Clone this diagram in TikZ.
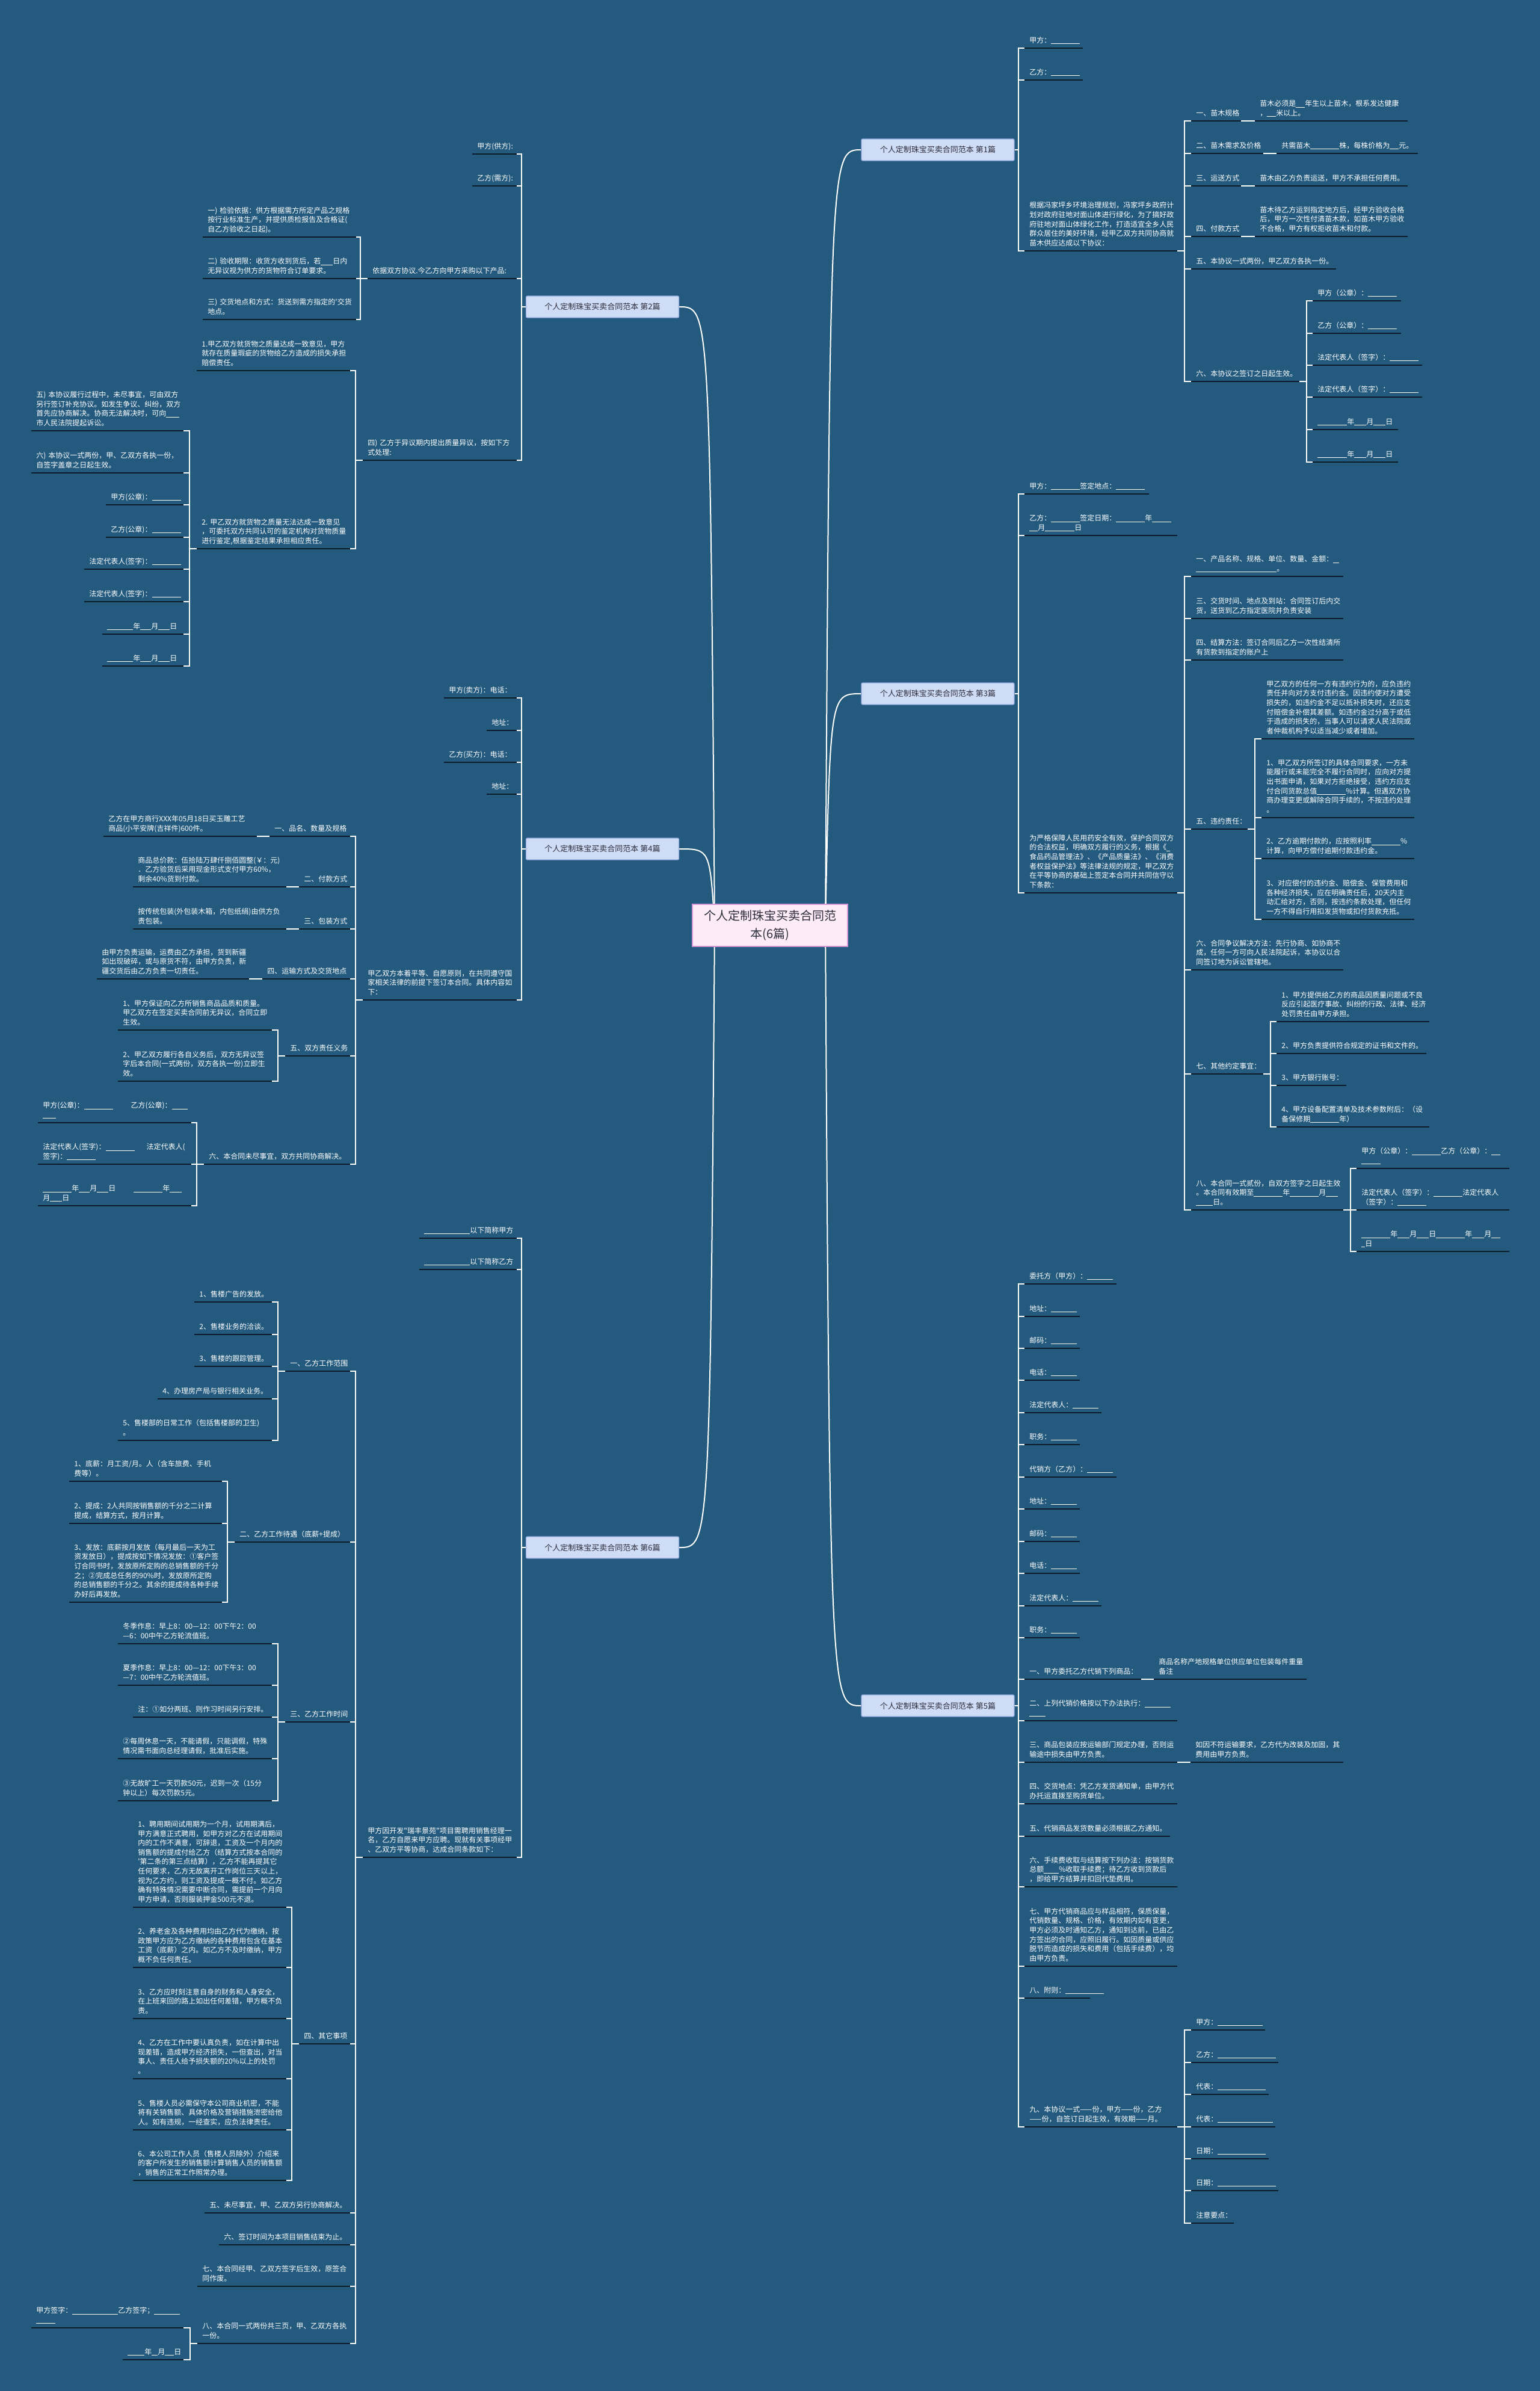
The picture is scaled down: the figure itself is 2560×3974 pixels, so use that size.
\documentclass[tikz,border=0pt]{standalone}
\usepackage{fontspec}
\newfontfamily\cjk{Noto Sans CJK SC}
\definecolor{bgc}{RGB}{35,90,126}
\definecolor{ulc}{RGB}{12,28,44}
\definecolor{brf}{RGB}{207,220,246}
\definecolor{brd}{RGB}{150,172,228}
\definecolor{brt}{RGB}{45,45,60}
\definecolor{rtf}{RGB}{253,236,247}
\definecolor{rtd}{RGB}{214,150,214}
\newdimen\mmu \mmu=0.5pt
\newcommand\mmb[1]{\rule[-1pt]{#1\mmu}{0.45pt}}
\pgfdeclarelayer{back}\pgfdeclarelayer{mid}
\pgfsetlayers{back,mid,main}
\tikzset{
 leaf/.style={anchor=south west, inner xsep=4pt, inner ysep=3pt,
   font=\cjk\fontsize{6}{7.8}\selectfont, text=white, align=left},
 ul/.style={draw=ulc, line width=1.1pt},
 wire/.style={draw=white, line width=1.1pt},
 curve/.style={draw=white, line width=1pt},
 branch/.style={draw=brd, fill=brf, line width=0.6pt, rounded corners=1pt, text=brt,
   font=\cjk\fontsize{6.5}{8}\selectfont, minimum width=127pt, minimum height=18pt, inner sep=0pt},
 root/.style={draw=rtd, fill=rtf, line width=0.8pt, text=brt, align=center,
   font=\cjk\fontsize{10}{15}\selectfont, minimum width=129pt, minimum height=35pt, inner sep=0pt}
}
\newcommand\mmleaf[5]{%
  \pgfmathsetmacro\mmw{(#3-#2)*0.5-8}%
  \node[leaf, text width=\mmw pt] (#1) at (#2,#4) {#5\rule[-1.2pt]{0pt}{1pt}};%
  \draw[ul] (#1.south west) -- (#1.south east);%
}
\newcommand\mmL[2]{\draw[wire] (#1.south west) -- ++(-12,0) |- (#2.south east);}
\newcommand\mmR[2]{\draw[wire] (#1.south east) -- ++(12,0) |- (#2.south west);}
\newcommand\mmTL[2]{\draw[wire] (#1.south west) -- (#2.south east);}
\newcommand\mmTR[2]{\draw[wire] (#1.south east) -- (#2.south west);}
\newcommand\mmBL[2]{\draw[wire] (#1.west) -- ++(-7,0) |- (#2.south east);}
\newcommand\mmBR[2]{\draw[wire] (#1.east) -- ++(6,0) |- (#2.south west);}
\begin{document}
\begin{tikzpicture}[x=0.5pt,y=-0.5pt]
\useasboundingbox (0,0) rectangle (2560,3974);
\begin{pgfonlayer}{back}
\fill[bgc] (0,0) rectangle (2560,3974);
\end{pgfonlayer}

% root and branches
\node[root] (root) at (1280,1538) {个人定制珠宝买卖合同范\\本(6篇)};
\coordinate (rR) at (1372,1538);
\coordinate (rL) at (1188,1538);
\node[branch] (b1) at (1559,249) {个人定制珠宝买卖合同范本~第1篇};
\node[branch] (b2) at (1001.5,510) {个人定制珠宝买卖合同范本~第2篇};
\node[branch] (b3) at (1559,1153) {个人定制珠宝买卖合同范本~第3篇};
\node[branch] (b4) at (1001.5,1411) {个人定制珠宝买卖合同范本~第4篇};
\node[branch] (b5) at (1559,2835) {个人定制珠宝买卖合同范本~第5篇};
\node[branch] (b6) at (1001.5,2572) {个人定制珠宝买卖合同范本~第6篇};

\begin{pgfonlayer}{mid}
\draw[curve] (rR) .. controls (1380,249) .. (b1.west);
\draw[curve] (rR) .. controls (1380,1153) .. (b3.west);
\draw[curve] (rR) .. controls (1380,2835) .. (b5.west);
\draw[curve] (rL) .. controls (1180,510) .. (b2.east);
\draw[curve] (rL) .. controls (1180,1411) .. (b4.east);
\draw[curve] (rL) .. controls (1180,2572) .. (b6.east);
\end{pgfonlayer}

% ================= Branch 2 =================
\mmleaf{b2a}{785}{858}{256}{甲方(供方):}
\mmleaf{b2b}{785}{858}{309}{乙方(需方):}
\mmleaf{b2c}{611}{858}{463}{依据双方协议.今乙方向甲方采购以下产品:}
\mmleaf{b2c1}{337}{591}{394}{一)~检验依据：供方根据需方所定产品之规格\\按行业标准生产，并提供质检报告及合格证(\\自乙方验收之日起)。}
\mmleaf{b2c2}{337}{591}{463}{二)~验收期限：收货方收到货后，若\mmb{20}日内\\无异议视为供方的货物符合订单要求。}
\mmleaf{b2c3}{337}{591}{531}{三)~交货地点和方式：货送到需方指定的'交货\\地点。}
\mmleaf{b2d}{603}{858}{765}{四)~乙方于异议期内提出质量异议，按如下方\\式处理:}
\mmleaf{b2d1}{327}{581}{616}{1.甲乙双方就货物之质量达成一致意见，甲方\\就存在质量瑕疵的货物给乙方造成的损失承担\\赔偿责任。}
\mmleaf{b2d2}{327}{581}{912}{2.~甲乙双方就货物之质量无法达成一致意见\\，可委托双方共同认可的鉴定机构对货物质量\\进行鉴定,根据鉴定结果承担相应责任。}
\mmleaf{b2e1}{52}{304}{716}{五)~本协议履行过程中，未尽事宜，可由双方\\另行签订补充协议。如发生争议、纠纷，双方\\首先应协商解决。协商无法解决时，可向\mmb{22}\\市人民法院提起诉讼。}
\mmleaf{b2e2}{52}{304}{786}{六)~本协议一式两份，甲、乙双方各执一份，\\自签字盖章之日起生效。}
\mmleaf{b2e3}{176}{304}{839}{甲方(公章)：\mmb{48}}
\mmleaf{b2e4}{176}{304}{893}{乙方(公章)：\mmb{48}}
\mmleaf{b2e5}{140}{304}{946}{法定代表人(签字)：\mmb{48}}
\mmleaf{b2e6}{140}{304}{1000}{法定代表人(签字)：\mmb{48}}
\mmleaf{b2e7}{170}{304}{1054}{\mmb{43}年\mmb{18}月\mmb{19}日}
\mmleaf{b2e8}{170}{304}{1107}{\mmb{43}年\mmb{18}月\mmb{19}日}
\foreach \c in {b2a,b2b,b2c,b2d} {\mmBL{b2}{\c}}
\foreach \c in {b2c1,b2c2,b2c3} {\mmL{b2c}{\c}}
\foreach \c in {b2d1,b2d2} {\mmL{b2d}{\c}}
\foreach \c in {b2e1,b2e2,b2e3,b2e4,b2e5,b2e6,b2e7,b2e8} {\mmL{b2d2}{\c}}

% ================= Branch 4 =================
\mmleaf{b4a}{738}{858}{1160}{甲方(卖方)：电话：}
\mmleaf{b4b}{809}{858}{1214}{地址：}
\mmleaf{b4c}{738}{858}{1267}{乙方(买方)：电话：}
\mmleaf{b4d}{809}{858}{1320}{地址：}
\mmleaf{b4e}{603}{858}{1662}{甲乙双方本着平等、自愿原则，在共同遵守国\\家相关法律的前提下签订本合同。具体内容如\\下：}
\mmleaf{b4e1}{448}{581}{1390}{一、品名、数量及规格}
\mmleaf{b4e1a}{172}{426}{1390}{乙方在甲方商行XXX年05月18日买玉雕工艺\\商品(小平安牌(吉祥件)600件。}
\mmleaf{b4e2}{497}{581}{1474}{二、付款方式}
\mmleaf{b4e2a}{221}{475}{1474}{商品总价款：伍拾陆万肆仟捌佰圆整(￥：元)\\．乙方验货后采用现金形式支付甲方60\%，\\剩余40\%货到付款。}
\mmleaf{b4e3}{497}{581}{1544}{三、包装方式}
\mmleaf{b4e3a}{221}{475}{1544}{按传统包装(外包装木箱，内包纸绢)由供方负\\责包装。}
\mmleaf{b4e4}{436}{581}{1627}{四、运输方式及交货地点}
\mmleaf{b4e4a}{161}{413}{1627}{由甲方负责运输，运费由乙方承担，货到新疆\\如出现破碎，或与原货不符，由甲方负责，新\\疆交货后由乙方负责一切责任。}
\mmleaf{b4e5}{474}{581}{1755}{五、双方责任义务}
\mmleaf{b4e5a}{196}{451}{1712}{1、甲方保证向乙方所销售商品品质和质量。\\甲乙双方在签定买卖合同前无异议，合同立即\\生效。}
\mmleaf{b4e5b}{196}{451}{1797}{2、甲乙双方履行各自义务后，双方无异议签\\字后本合同(一式两份，双方各执一份)立即生\\效。}
\mmleaf{b4e6}{339}{581}{1935}{六、本合同未尽事宜，双方共同协商解决。}
\mmleaf{b4e6a}{63}{317}{1866}{甲方(公章)：\mmb{48}\kern15pt乙方(公章)：\mmb{26}\\\mmb{22}}
\mmleaf{b4e6b}{63}{317}{1935}{法定代表人(签字)：\mmb{48}\kern10pt法定代表人(\\签字)：\mmb{48}}
\mmleaf{b4e6c}{63}{317}{2004}{\mmb{48}年\mmb{18}月\mmb{19}日\kern15pt\mmb{48}年\mmb{20}\\月\mmb{20}日}
\foreach \c in {b4a,b4b,b4c,b4d,b4e} {\mmBL{b4}{\c}}
\foreach \c in {b4e1,b4e2,b4e3,b4e4,b4e5,b4e6} {\mmL{b4e}{\c}}
\mmTL{b4e1}{b4e1a}
\mmTL{b4e2}{b4e2a}
\mmTL{b4e3}{b4e3a}
\mmTL{b4e4}{b4e4a}
\foreach \c in {b4e5a,b4e5b} {\mmL{b4e5}{\c}}
\foreach \c in {b4e6a,b4e6b,b4e6c} {\mmL{b4e6}{\c}}

% ================= Branch 6 =================
\mmleaf{b6a}{697}{858}{2058}{\mmb{76}以下简称甲方}
\mmleaf{b6b}{697}{858}{2110}{\mmb{76}以下简称乙方}
\mmleaf{b6c}{603}{858}{3087}{甲方因开发"瑞丰景苑"项目需聘用销售经理一\\名，乙方自愿来甲方应聘。现就有关事项经甲\\、乙双方平等协商，达成合同条款如下：}
\mmleaf{b6c1}{474}{581}{2279}{一、乙方工作范围}
\mmleaf{b6c1a}{323}{451}{2164}{1、售楼广告的发放。}
\mmleaf{b6c1b}{323}{451}{2218}{2、售楼业务的洽谈。}
\mmleaf{b6c1c}{323}{451}{2271}{3、售楼的跟踪管理。}
\mmleaf{b6c1d}{262}{451}{2325}{4、办理房产局与银行相关业务。}
\mmleaf{b6c1e}{196}{451}{2394}{5、售楼部的日常工作（包括售楼部的卫生)\\。}
\mmleaf{b6c2}{390}{581}{2563}{二、乙方工作待遇（底薪+提成）}
\mmleaf{b6c2a}{115}{368}{2462}{1、底薪：月工资/月。人（含车旅费、手机\\费等）。}
\mmleaf{b6c2b}{115}{368}{2532}{2、提成：2人共同按销售额的千分之二计算\\提成，结算方式，按月计算。}
\mmleaf{b6c2c}{115}{368}{2663}{3、发放：底薪按月发放（每月最后一天为工\\资发放日），提成按如下情况发放：①客户签\\订合同书时，发放原所定购的总销售额的千分\\之；②完成总任务的90\%时，发放原所定购\\的总销售额的千分之。其余的提成待各种手续\\办好后再发放。}
\mmleaf{b6c3}{474}{581}{2862}{三、乙方工作时间}
\mmleaf{b6c3a}{196}{451}{2732}{冬季作息：早上8：00—12：00下午2：00\\—6：00中午乙方轮流值班。}
\mmleaf{b6c3b}{196}{451}{2801}{夏季作息：早上8：00—12：00下午3：00\\—7：00中午乙方轮流值班。}
\mmleaf{b6c3c}{221}{451}{2854}{注：①如分两班、则作习时间另行安排。}
\mmleaf{b6c3d}{196}{451}{2923}{②每周休息一天，不能请假，只能调假，特殊\\情况需书面向总经理请假，批准后实施。}
\mmleaf{b6c3e}{196}{451}{2993}{③无故旷工一天罚款50元，迟到一次（15分\\钟以上）每次罚款5元。}
\mmleaf{b6c4}{497}{581}{3397}{四、其它事项}
\mmleaf{b6c4a}{221}{475}{3170}{1、聘用期间试用期为一个月，试用期满后，\\甲方满意正式聘用，如甲方对乙方在试用期间\\内的工作不满意，可辞退，工资及一个月内的\\销售额的提成付给乙方（结算方式按本合同的\\'第二条的第三点结算），乙方不能再提其它\\任何要求，乙方无故离开工作岗位三天以上，\\视为乙方约，则工资及提成一概不付。如乙方\\确有特殊情况需要中断合同，需提前一个月向\\甲方申请，否则服装押金500元不退。}
\mmleaf{b6c4b}{221}{475}{3270}{2、养老金及各种费用均由乙方代为缴纳，按\\政策甲方应为乙方缴纳的各种费用包含在基本\\工资（底薪）之内。如乙方不及时缴纳，甲方\\概不负任何责任。}
\mmleaf{b6c4c}{221}{475}{3355}{3、乙方应时刻注意自身的财务和人身安全，\\在上班来回的路上如出任何差错，甲方概不负\\责。}
\mmleaf{b6c4d}{221}{475}{3455}{4、乙方在工作中要认真负责，如在计算中出\\现差错，造成甲方经济损失，一但查出，对当\\事人、责任人给予损失额的20\%以上的处罚\\。}
\mmleaf{b6c4e}{221}{475}{3540}{5、售楼人员必需保守本公司商业机密，不能\\将有关销售额、具体价格及营销措施泄密给他\\人。如有违规，一经查实，应负法律责任。}
\mmleaf{b6c4f}{221}{475}{3624}{6、本公司工作人员（售楼人员除外）介绍来\\的客户所发生的销售额计算销售人员的销售额\\，销售的正常工作照常办理。}
\mmleaf{b6c5}{340}{581}{3678}{五、未尽事宜，甲、乙双方另行协商解决。}
\mmleaf{b6c6}{364}{581}{3731}{六、签订时间为本项目销售结束为止。}
\mmleaf{b6c7}{328}{581}{3800}{七、本合同经甲、乙双方签字后生效，原签合\\同作废。}
\mmleaf{b6c8}{328}{581}{3895}{八、本合同一式两份共三页，甲、乙双方各执\\一份。}
\mmleaf{b6c8a}{52}{304}{3869}{甲方签字：\mmb{76}乙方签字；\mmb{43}\\\mmb{32}}
\mmleaf{b6c8b}{204}{304}{3922}{\mmb{28}年\mmb{10}月\mmb{15}日}
\foreach \c in {b6a,b6b,b6c} {\mmBL{b6}{\c}}
\foreach \c in {b6c1,b6c2,b6c3,b6c4,b6c5,b6c6,b6c7,b6c8} {\mmL{b6c}{\c}}
\foreach \c in {b6c1a,b6c1b,b6c1c,b6c1d,b6c1e} {\mmL{b6c1}{\c}}
\foreach \c in {b6c2a,b6c2b,b6c2c} {\mmL{b6c2}{\c}}
\foreach \c in {b6c3a,b6c3b,b6c3c,b6c3d,b6c3e} {\mmL{b6c3}{\c}}
\foreach \c in {b6c4a,b6c4b,b6c4c,b6c4d,b6c4e,b6c4f} {\mmL{b6c4}{\c}}
\foreach \c in {b6c8a,b6c8b} {\mmL{b6c8}{\c}}

% ================= Branch 1 =================
\mmleaf{b1a}{1703}{1799}{80}{甲方：\mmb{48}}
\mmleaf{b1b}{1703}{1799}{133}{乙方：\mmb{48}}
\mmleaf{b1c}{1703}{1956}{417}{根据冯家坪乡环境治理规划，冯家坪乡政府计\\划对政府驻地对面山体进行绿化，为了搞好政\\府驻地对面山体绿化工作，打造适宜全乡人民\\群众居住的美好环境，经甲乙双方共同协商就\\苗木供应达成以下协议：}
\mmleaf{b1c1}{1980}{2062}{201}{一、苗木规格}
\mmleaf{b1c1a}{2086}{2339}{201}{苗木必须是\mmb{15}年生以上苗木，根系发达健康\\，\mmb{15}米以上。}
\mmleaf{b1c2}{1980}{2099}{255}{二、苗木需求及价格}
\mmleaf{b1c2a}{2122}{2356}{255}{共需苗木\mmb{48}株，每株价格为\mmb{15}元。}
\mmleaf{b1c3}{1980}{2062}{309}{三、运送方式}
\mmleaf{b1c3a}{2086}{2339}{309}{苗木由乙方负责运送，甲方不承担任何费用。}
\mmleaf{b1c4}{1980}{2062}{393}{四、付款方式}
\mmleaf{b1c4a}{2086}{2339}{393}{苗木待乙方运到指定地方后，经甲方验收合格\\后，甲方一次性付清苗木款，如苗木甲方验收\\不合格，甲方有权拒收苗木和付款。}
\mmleaf{b1c5}{1980}{2220}{447}{五、本协议一式两份，甲乙双方各执一份。}
\mmleaf{b1c6}{1980}{2159}{634}{六、本协议之签订之日起生效。}
\mmleaf{b1c6a}{2182}{2328}{500}{甲方（公章）：\mmb{48}}
\mmleaf{b1c6b}{2182}{2328}{554}{乙方（公章）：\mmb{48}}
\mmleaf{b1c6c}{2182}{2363}{607}{法定代表人（签字）：\mmb{48}}
\mmleaf{b1c6d}{2182}{2363}{660}{法定代表人（签字）：\mmb{48}}
\mmleaf{b1c6e}{2182}{2323}{714}{\mmb{49}年\mmb{20}月\mmb{20}日}
\mmleaf{b1c6f}{2182}{2323}{768}{\mmb{49}年\mmb{20}月\mmb{20}日}
\foreach \c in {b1a,b1b,b1c} {\mmBR{b1}{\c}}
\foreach \c in {b1c1,b1c2,b1c3,b1c4,b1c5,b1c6} {\mmR{b1c}{\c}}
\mmTR{b1c1}{b1c1a}
\mmTR{b1c2}{b1c2a}
\mmTR{b1c3}{b1c3a}
\mmTR{b1c4}{b1c4a}
\foreach \c in {b1c6a,b1c6b,b1c6c,b1c6d,b1c6e,b1c6f} {\mmR{b1c6}{\c}}

% ================= Branch 3 =================
\mmleaf{b3a}{1703}{1909}{821}{甲方：\mmb{48}签定地点：\mmb{48}}
\mmleaf{b3b}{1703}{1956}{890}{乙方：\mmb{48}签定日期：\mmb{48}年\mmb{32}\\\mmb{14}月\mmb{49}日}
\mmleaf{b3c}{1703}{1956}{1484}{为严格保障人民用药安全有效，保护合同双方\\的合法权益，明确双方履行的义务，根据《\mmb{6}\\食品药品管理法》、《产品质量法》、《消费\\者权益保护法》等法律法规的规定，甲乙双方\\在平等协商的基础上签定本合同并共同信守以\\下条款：}
\mmleaf{b3c1}{1980}{2232}{958}{一、产品名称、规格、单位、数量、金额：\mmb{10}\\\mmb{134}。}
\mmleaf{b3c2}{1980}{2232}{1028}{三、交货时间、地点及到站：合同签订后内交\\货，送货到乙方指定医院并负责安装}
\mmleaf{b3c3}{1980}{2232}{1097}{四、结算方法：签订合同后乙方一次性结清所\\有货款到指定的账户上}
\mmleaf{b3c4}{1980}{2073}{1378}{五、违约责任：}
\mmleaf{b3c4a}{2097}{2350}{1228}{甲乙双方的任何一方有违约行为的，应负违约\\责任并向对方支付违约金。因违约使对方遭受\\损失的，如违约金不足以抵补损失时，还应支\\付赔偿金补偿其差额。如违约金过分高于或低\\于造成的损失的，当事人可以请求人民法院或\\者仲裁机构予以适当减少或者增加。}
\mmleaf{b3c4b}{2097}{2350}{1359}{1、甲乙双方所签订的具体合同要求，一方未\\能履行或未能完全不履行合同时，应向对方提\\出书面申请，如果对方拒绝接受，违约方应支\\付合同货款总值\mmb{48}\%计算。但遇双方协\\商办理变更或解除合同手续的，不按违约处理\\。}
\mmleaf{b3c4c}{2097}{2350}{1427}{2、乙方逾期付款的，应按照利率\mmb{48}\%\\计算，向甲方偿付逾期付款违约金。}
\mmleaf{b3c4d}{2097}{2350}{1528}{3、对应偿付的违约金、赔偿金、保管费用和\\各种经济损失，应在明确责任后，20天内主\\动汇给对方，否则，按违约条款处理，但任何\\一方不得自行用扣发货物或扣付货款充抵。}
\mmleaf{b3c5}{1980}{2232}{1612}{六、合同争议解决方法：先行协商、如协商不\\成，任何一方可向人民法院起诉，本协议以合\\同签订地为诉讼管辖地。}
\mmleaf{b3c6}{1980}{2099}{1785}{七、其他约定事宜：}
\mmleaf{b3c6a}{2122}{2375}{1698}{1、甲方提供给乙方的商品因质量问题或不良\\反应引起医疗事故、纠纷的行政、法律、经济\\处罚责任由甲方承担。}
\mmleaf{b3c6b}{2122}{2370}{1751}{2、甲方负责提供符合规定的证书和文件的。}
\mmleaf{b3c6c}{2122}{2237}{1804}{3、甲方银行账号：}
\mmleaf{b3c6d}{2122}{2375}{1873}{4、甲方设备配置清单及技术参数附后：（设\\备保修期\mmb{48}年）}
\mmleaf{b3c7}{1980}{2232}{2011}{八、本合同一式贰份，自双方签字之日起生效\\。本合同有效期至\mmb{48}年\mmb{48}月\mmb{20}\\\mmb{28}日。}
\mmleaf{b3c7a}{2255}{2508}{1942}{甲方（公章）：\mmb{48}乙方（公章）：\mmb{15}\\\mmb{32}}
\mmleaf{b3c7b}{2255}{2508}{2011}{法定代表人（签字）：\mmb{48}法定代表人\\（签字）：\mmb{48}}
\mmleaf{b3c7c}{2255}{2508}{2080}{\mmb{48}年\mmb{20}月\mmb{20}日\mmb{48}年\mmb{20}月\mmb{15}\\\mmb{6}日}
\foreach \c in {b3a,b3b,b3c} {\mmBR{b3}{\c}}
\foreach \c in {b3c1,b3c2,b3c3,b3c4,b3c5,b3c6,b3c7} {\mmR{b3c}{\c}}
\foreach \c in {b3c4a,b3c4b,b3c4c,b3c4d} {\mmR{b3c4}{\c}}
\foreach \c in {b3c6a,b3c6b,b3c6c,b3c6d} {\mmR{b3c6}{\c}}
\foreach \c in {b3c7a,b3c7b,b3c7c} {\mmR{b3c7}{\c}}

% ================= Branch 5 =================
\mmleaf{b5a}{1703}{1855}{2134}{委托方（甲方）：\mmb{43}}
\mmleaf{b5b}{1703}{1794}{2188}{地址：\mmb{43}}
\mmleaf{b5c}{1703}{1794}{2241}{邮码：\mmb{43}}
\mmleaf{b5d}{1703}{1794}{2294}{电话：\mmb{43}}
\mmleaf{b5e}{1703}{1830}{2348}{法定代表人：\mmb{43}}
\mmleaf{b5f}{1703}{1794}{2401}{职务：\mmb{43}}
\mmleaf{b5g}{1703}{1855}{2455}{代销方（乙方）：\mmb{43}}
\mmleaf{b5h}{1703}{1794}{2508}{地址：\mmb{43}}
\mmleaf{b5i}{1703}{1794}{2562}{邮码：\mmb{43}}
\mmleaf{b5j}{1703}{1794}{2615}{电话：\mmb{43}}
\mmleaf{b5k}{1703}{1830}{2669}{法定代表人：\mmb{43}}
\mmleaf{b5l}{1703}{1794}{2722}{职务：\mmb{43}}
\mmleaf{b5m}{1703}{1896}{2791}{一、甲方委托乙方代销下列商品：}
\mmleaf{b5m1}{1918}{2171}{2791}{商品名称产地规格单位供应单位包装每件重量\\备注}
\mmleaf{b5n}{1703}{1956}{2860}{二、上列代销价格按以下办法执行：\mmb{43}\\\mmb{27}}
\mmleaf{b5o}{1703}{1956}{2929}{三、商品包装应按运输部门规定办理，否则运\\输途中损失由甲方负责。}
\mmleaf{b5o1}{1979}{2232}{2929}{如因不符运输要求，乙方代为改装及加固，其\\费用由甲方负责。}
\mmleaf{b5p}{1703}{1956}{2998}{四、交货地点：凭乙方发货通知单，由甲方代\\办托运直拨至购货单位。}
\mmleaf{b5q}{1703}{1944}{3052}{五、代销商品发货数量必须根据乙方通知。}
\mmleaf{b5r}{1703}{1956}{3136}{六、手续费收取与结算按下列办法：按销货款\\总额\mmb{25}\%收取手续费；待乙方收到货款后\\，即给甲方结算并扣回代垫费用。}
\mmleaf{b5s}{1703}{1956}{3268}{七、甲方代销商品应与样品相符，保质保量，\\代销数量、规格、价格，有效期内如有变更，\\甲方必须及时通知乙方，通知到达前，已由乙\\方签出的合同，应照旧履行。如因质量或供应\\脱节而造成的损失和费用（包括手续费），均\\由甲方负责。}
\mmleaf{b5t}{1703}{1811}{3321}{八、附则：\mmb{64}}
\mmleaf{b5u}{1703}{1956}{3535}{九、本协议一式——份，甲方——份，乙方\\——份，自签订日起生效，有效期——月。}
\mmleaf{b5u1}{1980}{2102}{3374}{甲方：\mmb{75}}
\mmleaf{b5u2}{1980}{2124}{3428}{乙方：\mmb{97}}
\mmleaf{b5u3}{1980}{2108}{3481}{代表：\mmb{80}}
\mmleaf{b5u4}{1980}{2119}{3535}{代表：\mmb{92}}
\mmleaf{b5u5}{1980}{2108}{3588}{日期：\mmb{80}}
\mmleaf{b5u6}{1980}{2124}{3641}{日期：\mmb{97}}
\mmleaf{b5u7}{1980}{2050}{3695}{注意要点：}
\foreach \c in {b5a,b5b,b5c,b5d,b5e,b5f,b5g,b5h,b5i,b5j,b5k,b5l,b5m,b5n,b5o,b5p,b5q,b5r,b5s,b5t,b5u} {\mmBR{b5}{\c}}
\mmTR{b5m}{b5m1}
\mmTR{b5o}{b5o1}
\foreach \c in {b5u1,b5u2,b5u3,b5u4,b5u5,b5u6,b5u7} {\mmR{b5u}{\c}}
\end{tikzpicture}
\end{document}
